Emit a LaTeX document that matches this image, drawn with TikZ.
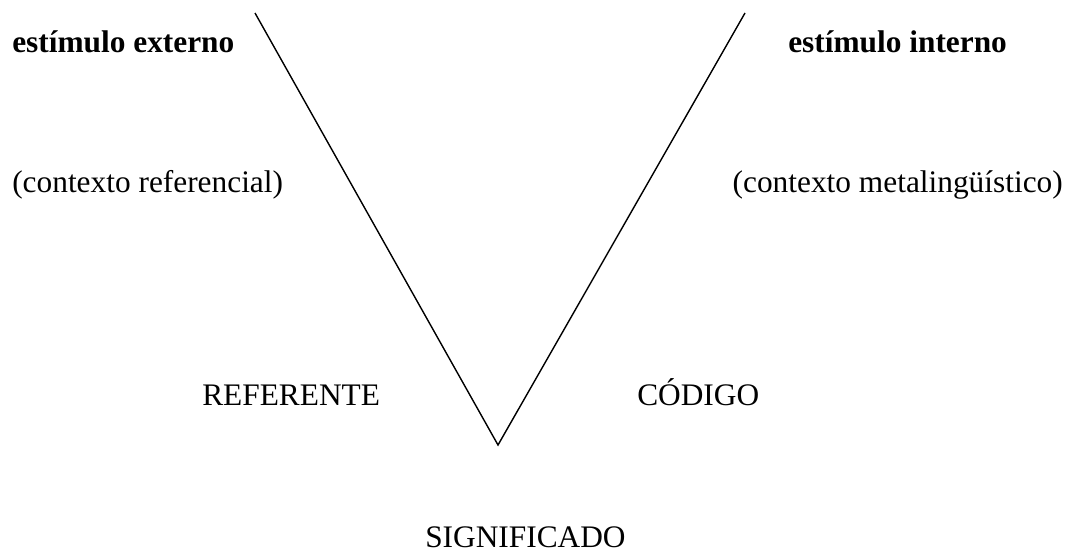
\documentclass[tikz,border=0pt]{standalone}
\usepackage{fontspec}
\setmainfont{Liberation Serif}
\usetikzlibrary{calc}

\begin{document}
\begin{tikzpicture}[x=0.025cm,y=-0.025cm,
  lbl/.style={inner sep=0pt,font=\fontsize{22.3}{26}\selectfont}]
\useasboundingbox (0,0) rectangle (1070,552);
\coordinate (ltop) at (255,13);
\coordinate (vtx) at (498,445);
\coordinate (rtop) at (745,13);
\draw[line width=1pt] (ltop) -- (vtx) -- (rtop);
\node[lbl,anchor=base west,font=\fontsize{22.3}{26}\selectfont\bfseries] (extern) at (12,52) {estímulo externo};
\node[lbl,anchor=base west,font=\fontsize{22.3}{26}\selectfont\bfseries] (intern) at (788,52) {estímulo interno};
\node[lbl,anchor=base west] (ctxref) at (12,192) {(contexto referencial)};
\node[lbl,anchor=base east] (ctxmeta) at (1063,192) {(contexto metalingüístico)};
\node[lbl,anchor=base west] (refer) at (202,405) {REFERENTE};
\node[lbl,anchor=base west] (codigo) at (637,405) {CÓDIGO};
\node[lbl,anchor=base west] (signif) at (425,547) {SIGNIFICADO};
\end{tikzpicture}
\end{document}
